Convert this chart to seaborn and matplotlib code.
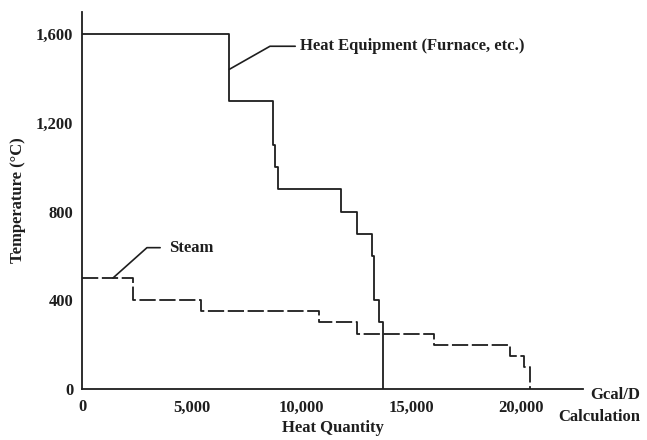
import matplotlib
matplotlib.use('Agg')
from matplotlib import pyplot as plt
from matplotlib.ticker import FuncFormatter, MultipleLocator
import pandas as pd
import seaborn as sns

# heat equipment (furnace etc.) - step curve, value holds until next x
heat_x = [0, 6700, 8700, 8800, 8900, 11800, 12500, 13200, 13300, 13500, 13700]
heat_t = [1600, 1300, 1100, 1000, 900, 800, 700, 600, 400, 300, 0]

# steam - step curve
steam_x = [0, 2300, 5400, 10800, 12500, 16000, 19500, 20100, 20400]
steam_t = [500, 400, 350, 300, 250, 200, 150, 100, 0]

x_ticks = [0, 5000, 10000, 15000, 20000]
y_ticks = [0, 400, 800, 1200, 1600]

sns.set_style("white")
plt.rcParams['font.family'] = ['Liberation Serif', 'DejaVu Serif']
ink = "#1e1e1e"
fs = 12

df_heat = pd.DataFrame({"q": heat_x, "t": heat_t})
df_steam = pd.DataFrame({"q": steam_x, "t": steam_t})

fig = plt.figure(figsize=(6.47, 4.40), dpi=100)
ax = fig.add_axes([0.127, 0.116, 0.774, 0.857])

sns.lineplot(data=df_heat, x="q", y="t", ax=ax, sort=False, drawstyle="steps-post",
             color=ink, linewidth=1.3)
sns.lineplot(data=df_steam, x="q", y="t", ax=ax, sort=False, drawstyle="steps-post",
             color=ink, linewidth=1.3, linestyle=(0, (9, 2)))

ax.set_xlim(0, 22800)
ax.set_ylim(0, 1700)
ax.set_xticks(x_ticks)
ax.set_yticks(y_ticks)
ax.yaxis.set_minor_locator(MultipleLocator(200))
fmt = FuncFormatter(lambda v, p: f"{int(v):,}")
ax.xaxis.set_major_formatter(fmt)
ax.yaxis.set_major_formatter(fmt)
ax.tick_params(axis='both', which='both', direction='inout', length=5, width=1,
               color=ink, labelsize=fs, labelcolor=ink, pad=4)
ax.tick_params(axis='x', which='major', pad=5)
ax.tick_params(axis='y', which='minor', length=4)

for s in ["top", "right"]:
    ax.spines[s].set_visible(False)
for s in ["left", "bottom"]:
    ax.spines[s].set_color(ink)
    ax.spines[s].set_linewidth(1.3)

ax.set_xlabel("Heat Quantity", fontsize=fs, fontweight="bold", color=ink, labelpad=3)
ax.set_ylabel("Temperature (°C)", fontsize=fs, fontweight="bold", color=ink, labelpad=7)
for lbl in ax.get_xticklabels() + ax.get_yticklabels():
    lbl.set_fontweight("bold")

# unit note at the end of the x axis
fig.text(0.99, 0.102, "Gcal/D", ha="right", va="center", fontsize=fs,
         fontweight="bold", color=ink)
fig.text(0.99, 0.052, "Calculation", ha="right", va="center", fontsize=fs,
         fontweight="bold", color=ink)

# leader lines + labels
ax.plot([6700, 8550, 9700], [1441, 1545, 1545], color=ink, linewidth=1.2)
ax.text(9900, 1545, "Heat Equipment (Furnace, etc.)", va="center", fontsize=fs,
        fontweight="bold", color=ink)
ax.plot([1400, 2950, 3550], [500, 637, 637], color=ink, linewidth=1.2)
ax.text(3950, 637, "Steam", va="center", fontsize=fs, fontweight="bold", color=ink)

plt.savefig("out.png", dpi=100)
